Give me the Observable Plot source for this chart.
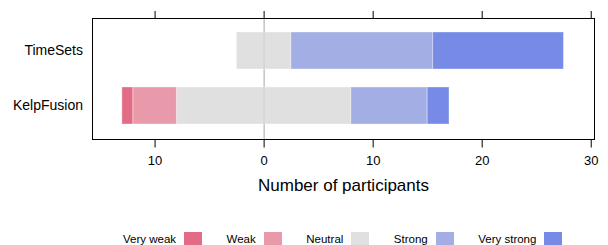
<!DOCTYPE html>
<html>
<head>
<meta charset="utf-8">
<script src="https://cdn.jsdelivr.net/npm/d3@7"></script>
<script src="https://cdn.jsdelivr.net/npm/@observablehq/plot@0.6"></script>
<style>
  html, body { margin: 0; padding: 0; background: #fff; overflow: hidden; }
  body { width: 608px; height: 245px; font-family: "Liberation Sans", Arial, Helvetica, sans-serif; }
  #legend { position: relative; height: 30px; }
  .item { position: absolute; top: 17px; height: 14px; display: flex; align-items: center; font-size: 11.5px; color: #000; white-space: nowrap; }
  .sw { width: 18px; height: 14px; margin-left: 8px; }
</style>
</head>
<body>
<div id="chart"></div>
<div id="legend"></div>
<script>
const categories = ["TimeSets", "KelpFusion"];
const levels = ["Very weak", "Weak", "Neutral", "Strong", "Very strong"];
const timeSetsCounts = [0, 0, 5, 13, 12];
const kelpFusionCounts = [1, 4, 16, 7, 2];
const colors = ["#e26b86", "#e89aab", "#e0e0e0", "#a3aee4", "#778ae6"];
const xTicks = [-10, 0, 10, 20, 30];
const axisTitle = "Number of participants";

const countsByCategory = { "TimeSets": timeSetsCounts, "KelpFusion": kelpFusionCounts };

// diverging stack: neutral split around zero
const rows = [];
for (const cat of categories) {
  const c = countsByCategory[cat];
  const half = c[2] / 2;
  rows.push({ cat, level: levels[2], x1: -half, x2: half });
  let left = -half;
  for (const i of [1, 0]) { rows.push({ cat, level: levels[i], x1: left - c[i], x2: left }); left -= c[i]; }
  let right = half;
  for (const i of [3, 4]) { rows.push({ cat, level: levels[i], x1: right, x2: right + c[i] }); right += c[i]; }
}
const bars = rows.filter(d => d.x2 > d.x1);

const H = 215;
const chart = Plot.plot({
  width: 608,
  height: H,
  marginLeft: 92,
  marginRight: 14,
  marginTop: 18,
  marginBottom: H - 139,
  style: { fontFamily: '"Liberation Sans", Arial, Helvetica, sans-serif', background: "#fff", color: "#000" },
  x: { domain: [-15.74, 30.3] },
  y: { domain: categories, paddingInner: 0.324, paddingOuter: 0.25 },
  color: { domain: levels, range: colors },
  marks: [
    Plot.ruleX([0], { stroke: "#b8b8b8", strokeWidth: 1 }),
    Plot.barX(bars, { y: "cat", x1: "x1", x2: "x2", fill: "level", stroke: "#fff", strokeOpacity: 0.35, strokeWidth: 1 }),
    Plot.ruleX([0], { stroke: "#000", strokeOpacity: 0.07, strokeWidth: 1 }),
    Plot.frame({ stroke: "#000", strokeWidth: 1 }),
    Plot.axisX({ anchor: "bottom", ticks: xTicks, tickSize: 8.5, tickPadding: 8, tickFormat: d => Math.abs(d), fontSize: 13, label: null, stroke: "#000" }),
    Plot.axisX({ anchor: "top", ticks: xTicks, tickSize: 8, tickFormat: () => "", label: null }),
    Plot.axisY({ anchor: "left", tickSize: 0, tickPadding: 9.5, fontSize: 14, label: null }),
    Plot.text([axisTitle], { frameAnchor: "bottom", dy: 51, fontSize: 17, text: d => d })
  ]
});
document.getElementById("chart").appendChild(chart);

// legend: label then swatch
const legend = document.getElementById("legend");
let x = 123;
levels.forEach((lv, i) => {
  const item = document.createElement("div");
  item.className = "item";
  item.style.left = x + "px";
  const t = document.createElement("span");
  t.textContent = lv;
  const sw = document.createElement("span");
  sw.className = "sw";
  sw.style.background = colors[i];
  item.appendChild(t);
  item.appendChild(sw);
  legend.appendChild(item);
  x += item.getBoundingClientRect().width + 24.5;
});
</script>
</body>
</html>
